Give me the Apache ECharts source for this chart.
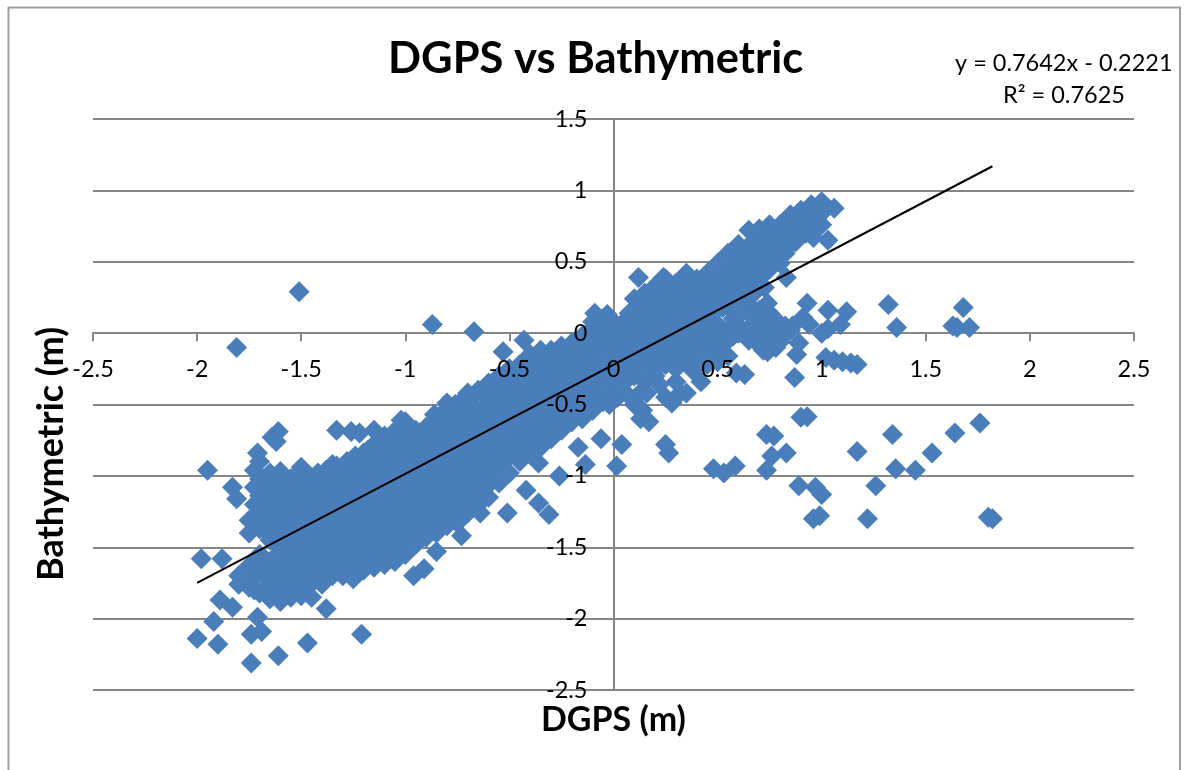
<!DOCTYPE html>
<html><head><meta charset="utf-8">
<style>html,body{margin:0;padding:0;background:#fff}#c{width:1188px;height:770px}</style>
<script src="https://cdn.jsdelivr.net/npm/echarts@6/dist/echarts.min.js"></script>
</head><body><div id="c"></div>
<script>
const titleText = "DGPS vs Bathymetric";
const xAxisTitle = "DGPS (m)";
const yAxisTitle = "Bathymetric (m)";
const equationText = "y = 0.7642x - 0.2221";
const r2Text = "R\u00b2 = 0.7625";
const trendX = [-2.0, 1.82];
const trendY = [-1.75, 1.169];

const cloudColumnX = [-1.8,-1.75,-1.7,-1.65,-1.6,-1.55,-1.5,-1.45,-1.4,-1.35,-1.3,-1.25,-1.2,-1.15,-1.1,-1.05,-1,-0.95,-0.9,-0.85,-0.8,-0.75,-0.7,-0.65,-0.6,-0.55,-0.5,-0.45,-0.4,-0.35,-0.3,-0.25,-0.2,-0.15,-0.1,-0.05,0,0.05,0.1,0.15,0.2,0.25,0.3,0.35,0.4,0.45,0.5,0.55,0.6,0.65,0.7,0.75,0.8,0.85,0.9,0.95,1];
const cloudColumnY = [
[-1.7,-1.76],
[-1.31,-1.4,-1.63,-1.78],
[-0.9,-1.02,-1.14,-1.26,-1.37,-1.55,-1.68,-1.82],
[-0.98,-1.1,-1.2,-1.33,-1.45,-1.6,-1.74,-1.86],
[-0.97,-1.07,-1.18,-1.3,-1.41,-1.53,-1.66,-1.78,-1.88],
[-1.02,-1.14,-1.26,-1.37,-1.48,-1.6,-1.72,-1.85],
[-0.94,-1.08,-1.2,-1.31,-1.43,-1.55,-1.67,-1.79,-1.84],
[-1.01,-1.13,-1.25,-1.37,-1.49,-1.61,-1.73,-1.85],
[-1.05,-1.18,-1.3,-1.42,-1.54,-1.66,-1.76],
[-0.92,-1.04,-1.12,-1.24,-1.36,-1.48,-1.6,-1.7],
[-0.98,-1.08,-1.19,-1.31,-1.43,-1.55,-1.67,-1.7],
[-0.9,-1.02,-1.14,-1.26,-1.38,-1.5,-1.62,-1.72],
[-0.84,-0.96,-1.08,-1.2,-1.32,-1.44,-1.56,-1.66],
[-0.78,-0.9,-1.02,-1.14,-1.26,-1.38,-1.5,-1.62,-1.64],
[-0.72,-0.84,-0.96,-1.08,-1.2,-1.32,-1.44,-1.56,-1.62],
[-0.7,-0.79,-0.91,-1.03,-1.15,-1.27,-1.39,-1.51,-1.6],
[-0.62,-0.74,-0.86,-0.98,-1.1,-1.22,-1.34,-1.46,-1.55],
[-0.68,-0.8,-0.92,-1.04,-1.16,-1.28,-1.4,-1.48],
[-0.66,-0.76,-0.88,-1,-1.12,-1.24,-1.36,-1.43],
[-0.6,-0.7,-0.82,-0.94,-1.06,-1.18,-1.3,-1.4],
[-0.49,-0.64,-0.76,-0.88,-1,-1.12,-1.24,-1.35],
[-0.55,-0.68,-0.8,-0.92,-1.04,-1.16,-1.28,-1.33],
[-0.42,-0.5,-0.62,-0.74,-0.86,-0.98,-1.1,-1.22,-1.26],
[-0.4,-0.55,-0.67,-0.79,-0.91,-1.03,-1.15,-1.2],
[-0.35,-0.46,-0.58,-0.7,-0.82,-0.94,-1.06,-1.15],
[-0.3,-0.41,-0.53,-0.65,-0.77,-0.89,-1.05],
[-0.25,-0.36,-0.48,-0.6,-0.72,-0.84,-0.98],
[-0.22,-0.32,-0.44,-0.56,-0.68,-0.8,-0.9],
[-0.15,-0.27,-0.39,-0.51,-0.63,-0.75,-0.85],
[-0.12,-0.22,-0.34,-0.46,-0.58,-0.7,-0.8],
[-0.12,-0.25,-0.37,-0.49,-0.61,-0.74],
[-0.09,-0.2,-0.32,-0.44,-0.56,-0.68],
[-0.07,-0.18,-0.3,-0.42,-0.54,-0.62],
[-0.02,-0.13,-0.25,-0.37,-0.49,-0.6],
[0.08,-0.04,-0.16,-0.28,-0.4,-0.54],
[0.1,0.01,-0.11,-0.23,-0.35,-0.48],
[0.08,-0.04,-0.16,-0.28,-0.42],
[0.08,-0.02,-0.12,-0.24,-0.35],
[0.24,0.12,0,-0.1,-0.2,-0.3],
[0.28,0.16,0.04,-0.05,-0.17,-0.34],
[0.33,0.21,0.09,-0.03,-0.14,-0.3],
[0.38,0.26,0.14,0.02,-0.1,-0.22],
[0.35,0.23,0.11,-0.01,-0.13,-0.25],
[0.4,0.28,0.16,0.04,-0.07,-0.2],
[0.38,0.26,0.14,0.02,-0.1,-0.15],
[0.42,0.31,0.19,0.07,-0.04,-0.12],
[0.49,0.36,0.24,0.06,-0.06,-0.1],
[0.56,0.43,0.31,0.19,0.02,-0.05],
[0.62,0.5,0.38,0.26,0.05,0],
[0.72,0.58,0.46,0.34,0.2,0.03,-0.05],
[0.73,0.62,0.5,0.38,0.16,0.03,-0.06],
[0.76,0.66,0.54,0.45,0.14,0.06,-0.08],
[0.76,0.7,0.6,0.49,0.05,-0.04],
[0.83,0.73,0.62,0.02],
[0.86,0.78,0.68],
[0.9,0.8,0.72],
[0.92,0.84,0.76]
];
const fillColumnX = [-1.725,-1.675,-1.625,-1.575,-1.525,-1.475,-1.425,-1.375,-1.325,-1.275,-1.225,-1.175,-1.125,-1.075,-1.025,-0.975,-0.925,-0.875,-0.825,-0.775,-0.725,-0.675,-0.625,-0.575,-0.525,-0.475,-0.425,-0.375,-0.325,-0.275,-0.225,-0.175,-0.125,-0.075,-0.025,0.025,0.075,0.125,0.175,0.225,0.275,0.325,0.375,0.425,0.475,0.525,0.575,0.625,0.675,0.725,0.775,0.825,0.875,0.925,0.975];
const fillColumnY = [
[-0.96,-1.08,-1.2,-1.32,-1.6,-1.72,-1.8],
[-1.04,-1.15,-1.26,-1.38,-1.58,-1.68,-1.8],
[-1.02,-1.12,-1.24,-1.36,-1.47,-1.6,-1.72,-1.83],
[-1.08,-1.2,-1.31,-1.43,-1.55,-1.66,-1.78],
[-1,-1.14,-1.25,-1.37,-1.49,-1.61,-1.73],
[-1.07,-1.19,-1.31,-1.43,-1.55,-1.67,-1.79],
[-1.12,-1.24,-1.36,-1.48,-1.6,-1.72],
[-1.06,-1.18,-1.3,-1.42,-1.54,-1.65],
[-1.03,-1.13,-1.25,-1.37,-1.49,-1.61],
[-0.96,-1.08,-1.2,-1.32,-1.44,-1.56,-1.67],
[-0.9,-1.02,-1.14,-1.26,-1.38,-1.5,-1.62],
[-0.84,-0.96,-1.08,-1.2,-1.32,-1.44,-1.56],
[-0.78,-0.9,-1.02,-1.14,-1.26,-1.38,-1.5],
[-0.75,-0.85,-0.97,-1.09,-1.21,-1.33,-1.45,-1.55],
[-0.68,-0.8,-0.92,-1.04,-1.16,-1.28,-1.4,-1.5],
[-0.74,-0.86,-0.98,-1.1,-1.22,-1.34,-1.44],
[-0.72,-0.82,-0.94,-1.06,-1.18,-1.3,-1.4],
[-0.65,-0.76,-0.88,-1,-1.12,-1.24,-1.35],
[-0.57,-0.7,-0.82,-0.94,-1.06,-1.18,-1.3],
[-0.52,-0.62,-0.74,-0.86,-0.98,-1.1,-1.22],
[-0.48,-0.56,-0.68,-0.8,-0.92,-1.04,-1.16,-1.24],
[-0.44,-0.5,-0.61,-0.73,-0.85,-0.97,-1.09,-1.18],
[-0.4,-0.52,-0.64,-0.76,-0.88,-1,-1.1],
[-0.35,-0.47,-0.59,-0.71,-0.83,-0.95,-1.02],
[-0.3,-0.42,-0.54,-0.66,-0.78,-0.9],
[-0.27,-0.38,-0.5,-0.62,-0.74,-0.85],
[-0.2,-0.33,-0.45,-0.57,-0.69,-0.8],
[-0.16,-0.28,-0.4,-0.52,-0.64,-0.76],
[-0.18,-0.31,-0.43,-0.55,-0.67],
[-0.14,-0.26,-0.38,-0.5,-0.62],
[-0.12,-0.24,-0.36,-0.48,-0.58],
[-0.08,-0.19,-0.31,-0.43,-0.55],
[0,-0.1,-0.22,-0.34,-0.46],
[0.05,-0.1,-0.22,-0.34,-0.44],
[0.05,-0.1,-0.22,-0.34],
[0.02,-0.08,-0.18,-0.3],
[0.14,0.05,-0.06,-0.17,-0.26],
[0.22,0.1,-0.01,-0.11,-0.23],
[0.22,0.1,-0.01,-0.11,-0.2],
[0.27,0.15,0.03,-0.09,-0.2],
[0.32,0.2,0.08,-0.04,-0.16],
[0.29,0.17,0.05,-0.07,-0.19],
[0.34,0.22,0.1,-0.02,-0.12],
[0.33,0.2,0.08,-0.04],
[0.36,0.25,0.13,0.01,-0.08],
[0.43,0.3,0.18,0,-0.06],
[0.49,0.37,0.25,0.1,-0.02],
[0.56,0.44,0.32,0.16,0.02],
[0.65,0.52,0.4,0.28,0.1,-0.02],
[0.68,0.56,0.44,0.32,0.1,0],
[0.71,0.6,0.5,0.1,0],
[0.78,0.67,0.56,0.05],
[0.8,0.72,0.64],
[0.84,0.76,0.7],
[0.88,0.8,0.74]
];
const upperEdgePoints = [[1.06,0.875],[1.03,0.65],[0.96,0.67],[0.83,0.39],[0.77,0.49],[0.74,0.21],[0.12,0.39],[0.24,0.39],[0.35,0.42],[-0.09,0.14],[-0.03,0.13],[-1.48,-1],[-1.42,-0.98],[-1.38,-0.96],[-1.33,-0.93],[-1.28,-0.9],[-1.24,-0.86],[-1.18,-0.82],[-1.12,-0.76],[-1.06,-0.7],[-0.98,-0.66],[-0.93,-0.7],[-0.88,-0.64],[-0.82,-0.56],[-0.76,-0.5],[-0.72,-0.46]];
const lowerEdgePoints = [[-0.02,-0.5],[0.06,-0.42],[0.16,-0.42],[0.22,-0.36],[0.38,-0.26],[0.45,-0.22],[0.5,-0.2],[0.55,-0.16],[0.25,-0.45],[0.32,-0.42],[0.1,-0.5],[0.72,-0.12],[0.74,-0.13],[0.78,-0.1],[0.8,-0.06],[0.83,0],[0.86,0.05],[0.69,-0.07]];
const rightBandPoints = [[0.93,0.21],[0.91,0.11],[0.94,0.06],[1,0],[1.03,0.16],[1.12,0.15],[1.09,0.06],[1.03,0.03],[0.89,-0.07],[0.88,-0.15],[0.87,-0.31],[1.02,-0.17],[1.06,-0.19],[1.1,-0.2],[1.14,-0.21],[1.17,-0.22],[0.63,-0.29],[0.59,-0.28],[0.42,-0.34],[0.35,-0.42],[0.28,-0.49],[0.3,-0.34],[0.12,-0.43],[0.14,-0.54],[0.02,-0.45],[0.19,-0.28],[0.48,-0.12]];
const leftOutliers = [[-1.51,0.29],[-1.81,-0.1],[-0.87,0.06],[-0.67,0.01],[-0.43,-0.05],[-0.53,-0.13],[-1.95,-0.96],[-1.98,-1.58],[-2,-2.14],[-1.88,-1.58],[-1.92,-2.02],[-1.9,-2.18],[-1.89,-1.87],[-1.83,-1.92],[-1.74,-2.31],[-1.61,-2.26],[-1.47,-2.17],[-1.21,-2.11],[-1.74,-2.11],[-1.69,-2.09],[-1.71,-1.99],[-1.83,-1.08],[-1.81,-1.16],[-1.61,-0.69],[-1.64,-0.73],[-1.62,-0.76],[-1.71,-0.84],[-1.33,-0.68],[-1.26,-0.69],[-1.22,-0.7],[-1.15,-0.68],[-1.02,-0.61],[-0.86,-0.57],[-1.38,-1.93],[-0.96,-1.7],[-0.91,-1.65],[-0.85,-1.53],[-0.73,-1.42],[-0.64,-1.26],[-0.51,-1.26],[-0.42,-1.1],[-0.36,-1.19],[-0.31,-1.27],[-0.26,-1],[-0.36,-0.91]];
const rightOutliers = [[1.32,0.2],[1.36,0.04],[1.63,0.05],[1.65,0.04],[1.68,0.18],[1.71,0.04],[1.76,-0.63],[1.64,-0.7],[1.53,-0.84],[1.45,-0.96],[1.355,-0.95],[1.34,-0.71],[1.26,-1.07],[1.17,-0.83],[1.22,-1.3],[1.8,-1.29],[1.82,-1.3],[0.96,-1.3],[0.99,-1.28],[0.97,-1.08],[1,-1.13],[0.89,-1.07],[0.83,-0.84],[0.76,-0.86],[0.735,-0.71],[0.77,-0.72],[0.735,-0.96],[0.9,-0.59],[0.93,-0.585],[0.48,-0.95],[0.53,-0.98],[0.585,-0.93],[0.015,-0.93],[0.04,-0.78],[-0.06,-0.74],[-0.135,-0.92],[-0.17,-0.8],[0.25,-0.78],[0.265,-0.84],[0.17,-0.62],[0.13,-0.6]];

const cloudPoints = [];
cloudColumnX.forEach((x, i) => cloudColumnY[i].forEach(y => cloudPoints.push([x, y])));
fillColumnX.forEach((x, i) => fillColumnY[i].forEach(y => cloudPoints.push([x, y])));
const allPoints = cloudPoints.concat(upperEdgePoints, lowerEdgePoints, rightBandPoints, leftOutliers, rightOutliers);

const FONT = "Lato";
const axisGray = "#868686";
const chart = echarts.init(document.getElementById("c"), null, {renderer: "canvas"});
chart.setOption({
  animation: false,
  backgroundColor: "#fff",
  grid: {left: 93, right: 54, top: 119, bottom: 80, outerBoundsMode: "none", containLabel: false},
  xAxis: [
    {type: "value", position: "bottom", min: -2.5, max: 2.5, interval: 0.5, z: 0,
     axisLine: {onZero: true, lineStyle: {color: axisGray, width: 2}},
     axisTick: {show: true, length: 8, lineStyle: {color: axisGray, width: 2}},
     axisLabel: {show: false}, splitLine: {show: false}},
    {type: "value", position: "bottom", offset: -357, min: -2.5, max: 2.5, interval: 0.5, z: 5,
     axisLine: {show: false, onZero: false},
     axisTick: {show: false}, splitLine: {show: false},
     axisLabel: {show: true, margin: 24, fontFamily: FONT, fontSize: 23.5, color: "#000", hideOverlap: false, showMinLabel: true, showMaxLabel: true}}
  ],
  yAxis: [
    {type: "value", position: "left", min: -2.5, max: 1.5, interval: 0.5, z: 0,
     axisLine: {onZero: true, lineStyle: {color: axisGray, width: 2}},
     axisTick: {show: true, length: 8, lineStyle: {color: axisGray, width: 2}},
     axisLabel: {show: false},
     splitLine: {show: true, lineStyle: {color: axisGray, width: 2}}},
    {type: "value", position: "left", offset: -520.5, min: -2.5, max: 1.5, interval: 0.5, z: 5,
     axisLine: {show: false, onZero: false},
     axisTick: {show: false}, splitLine: {show: false},
     axisLabel: {show: true, margin: 26, fontFamily: FONT, fontSize: 23.5, color: "#000", hideOverlap: false, showMinLabel: true, showMaxLabel: true}}
  ],
  series: [
    {type: "scatter", data: allPoints, symbol: "diamond", symbolSize: 21, z: 2,
     itemStyle: {color: "#4a7ebb", opacity: 1}},
    {type: "line", data: trendX.map((x, i) => [x, trendY[i]]), showSymbol: false, symbol: "none", z: 4,
     lineStyle: {color: "#000", width: 2}}
  ],
  graphic: [
    {type: "polyline", silent: true, shape: {points: [[8.5,770],[8.5,7.5],[1180,7.5],[1180,770]]}, style: {stroke: "#a0a0a0", fill: null, lineWidth: 2}},
    {type: "text", left: 388, top: 37, style: {text: titleText, fontFamily: FONT, fontWeight: "bold", fontSize: 43.5, fill: "#000"}},
    {type: "text", left: 955, top: 51, style: {text: equationText, fontFamily: FONT, fontSize: 23.5, fill: "#000"}},
    {type: "text", left: 1003, top: 83, style: {text: r2Text, fontFamily: FONT, fontSize: 23.5, fill: "#000"}},
    {type: "text", left: 541, top: 703, style: {text: xAxisTitle, fontFamily: FONT, fontWeight: "bold", fontSize: 34, fill: "#000"}},
    {type: "text", x: 33, y: 581, rotation: Math.PI / 2, style: {text: yAxisTitle, fontFamily: FONT, fontWeight: "bold", fontSize: 36, fill: "#000", align: "left", verticalAlign: "top"}}
  ]
});
</script></body></html>
